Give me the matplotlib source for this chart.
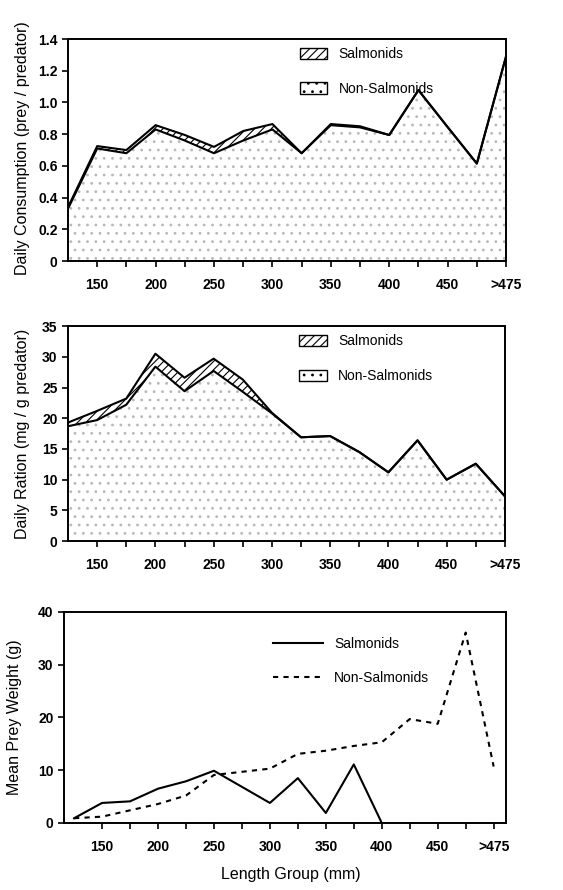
import numpy as np
import matplotlib
matplotlib.use("Agg")
import matplotlib.pyplot as plt
from matplotlib.patches import Patch

plt.rcParams["font.family"] = ["Liberation Sans", "DejaVu Sans"]
plt.rcParams["hatch.linewidth"] = 0.8

# data to plot
length = [125, 150, 175, 200, 225, 250, 275, 300, 325, 350, 375, 400, 425, 450, 475, 500]
tick_pos = [150, 200, 250, 300, 350, 400, 450, 500]
tick_labels = ["150", "200", "250", "300", "350", "400", "450", ">475"]

# daily consumption (prey / predator)
cons_nonsalm = [0.33, 0.71, 0.68, 0.83, 0.76, 0.68, 0.76, 0.83, 0.68, 0.857, 0.843, 0.795, 1.078, 0.845, 0.615, 1.29]
cons_total = [0.34, 0.725, 0.70, 0.857, 0.795, 0.72, 0.82, 0.864, 0.68, 0.864, 0.85, 0.795, 1.078, 0.845, 0.615, 1.29]

# daily ration (mg / g predator)
ration_nonsalm = [18.7, 19.7, 22.2, 28.4, 24.4, 27.7, 24.3, 20.8, 16.9, 17.1, 14.5, 11.2, 16.4, 10.0, 12.6, 7.3]
ration_total = [19.3, 21.2, 23.2, 30.5, 26.6, 29.7, 26.3, 20.9, 16.9, 17.1, 14.5, 11.2, 16.4, 10.0, 12.6, 7.3]

# mean prey weight (g)
salm_len = [125, 150, 175, 200, 225, 250, 300, 325, 350, 375, 400]
salm_weight = [0.9, 3.8, 4.1, 6.5, 7.9, 9.9, 3.8, 8.5, 1.9, 11.1, 0.0]
nonsalm_weight = [0.9, 1.2, 2.4, 3.6, 5.2, 9.1, 9.7, 10.3, 13.1, 13.7, 14.6, 15.3, 19.7, 18.8, 36.1, 10.7]

fig = plt.figure(figsize=(5.63, 8.9), dpi=100)
ax1 = fig.add_axes([0.1208, 0.7067, 0.778, 0.2494])
ax2 = fig.add_axes([0.1208, 0.392, 0.776, 0.2416])
ax3 = fig.add_axes([0.1137, 0.0753, 0.785, 0.2371])


def style_axis(ax):
    for s in ax.spines.values():
        s.set_linewidth(1.4)
    ax.set_xticks(tick_pos)
    ax.set_xticklabels(tick_labels, fontsize=10, fontweight="bold")
    ax.set_xticks([175, 225, 275, 325, 375, 425, 475], minor=True)
    ax.tick_params(axis="both", which="major", direction="out", length=4, width=1.2, labelsize=10)
    ax.tick_params(axis="x", which="minor", direction="out", length=4, width=1.2)
    ax.tick_params(axis="x", pad=8)
    for lab in ax.get_yticklabels():
        lab.set_fontweight("bold")


def stacked(ax, lower, upper):
    ax.fill_between(length, 0, lower, facecolor="white", edgecolor="#b8b8b8",
                    hatch="..", linewidth=0)
    ax.fill_between(length, lower, upper, facecolor="white", edgecolor="black",
                    hatch="////", linewidth=0)
    ax.plot(length, lower, color="black", lw=1.5)
    ax.plot(length, upper, color="black", lw=1.5)


area_handles = [Patch(facecolor="white", edgecolor="black", hatch="////", label="Salmonids"),
                Patch(facecolor="white", edgecolor="black", hatch="..", label="Non-Salmonids")]

# top panel
stacked(ax1, cons_nonsalm, cons_total)
ax1.set_xlim(125, 500)
ax1.set_ylim(0, 1.4)
ax1.set_yticks([0, 0.2, 0.4, 0.6, 0.8, 1.0, 1.2, 1.4])
ax1.set_yticklabels(["0", "0.2", "0.4", "0.6", "0.8", "1.0", "1.2", "1.4"])
style_axis(ax1)
ax1.legend(handles=area_handles, loc="upper left", bbox_to_anchor=(0.5, 1.02), frameon=False,
           fontsize=10, labelspacing=1.5, handlelength=2.0, handleheight=0.9)
fig.text(0.04, 0.834, "Daily Consumption (prey / predator)", rotation=90,
         ha="center", va="center", fontsize=11.5)

# middle panel
stacked(ax2, ration_nonsalm, ration_total)
ax2.set_xlim(125, 500)
ax2.set_ylim(0, 35)
ax2.set_yticks(range(0, 36, 5))
style_axis(ax2)
ax2.legend(handles=area_handles, loc="upper left", bbox_to_anchor=(0.5, 1.02), frameon=False,
           fontsize=10, labelspacing=1.5, handlelength=2.0, handleheight=0.9)
fig.text(0.04, 0.513, "Daily Ration (mg / g predator)", rotation=90,
         ha="center", va="center", fontsize=11.5)

# bottom panel
ax3.plot(salm_len, salm_weight, color="black", lw=1.5, label="Salmonids")
ax3.plot(length, nonsalm_weight, color="black", lw=1.5, ls=(0, (2.5, 2.5)), label="Non-Salmonids")
ax3.set_xlim(116, 511)
ax3.set_ylim(0, 40)
ax3.set_yticks([0, 10, 20, 30, 40])
style_axis(ax3)
ax3.legend(loc="upper left", bbox_to_anchor=(0.445, 0.94), frameon=False,
           fontsize=10, labelspacing=1.4, handlelength=3.6)
fig.text(0.026, 0.194, "Mean Prey Weight (g)", rotation=90,
         ha="center", va="center", fontsize=11.5)
fig.text(0.517, 0.017, "Length Group (mm)", ha="center", va="center", fontsize=11.5)

plt.savefig("out.png", dpi=100)
